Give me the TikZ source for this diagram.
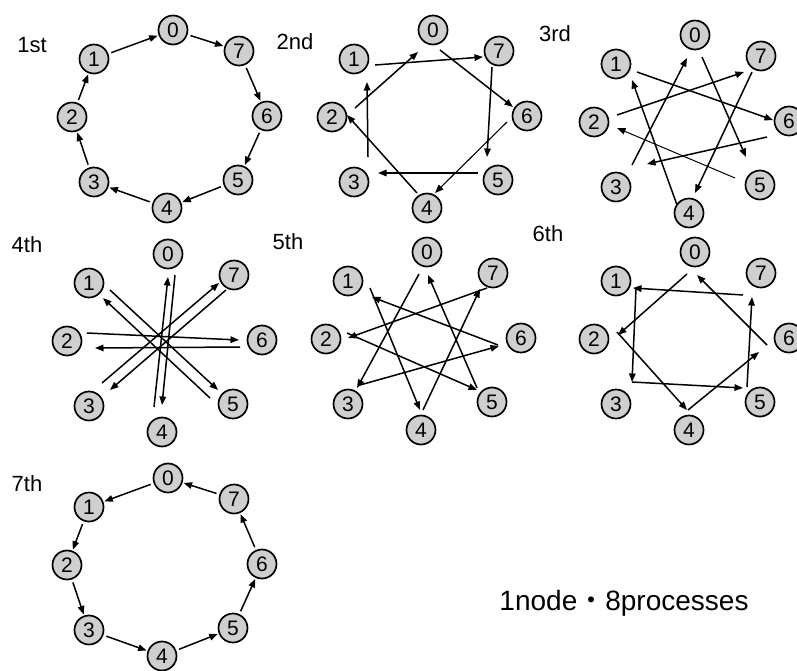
\documentclass[tikz,border=0pt]{standalone}
\usepackage{fontspec}
\setmainfont{Liberation Sans}
\newfontfamily\cjk{Noto Sans CJK JP}
\usetikzlibrary{arrows.meta,calc}
\newcommand{\ringnodes}[3]{%
  \foreach \i/\dx/\dy in {0/0/0,1/-79/29,2/-101/87,3/-79/152,4/-6/178,5/65/150,6/94/86,7/66/21}
    \node[pnode] (#1\i) at (#2+\dx,#3+\dy) {\i};
}
\newcommand{\conn}[7][]{\draw[arr,#1] ($(#2)+(#3,#4)$) -- ($(#5)+(#6,#7)$);}
\begin{document}
\begin{tikzpicture}[x=1pt,y=-1pt,
  pnode/.style={circle,draw,line width=1.7pt,fill=gray!38,minimum size=29pt,inner sep=0pt,
                font=\fontsize{21}{21}\selectfont},
  arr/.style={-{Triangle[length=8.5pt,width=6.5pt]},line width=1.5pt},
  ring/.style={arr,shorten <=3pt,shorten >=1pt},
  lbl/.style={font=\fontsize{22}{22}\selectfont,inner sep=0pt}]
\fill[white] (0,0) rectangle (797,670);
\useasboundingbox (0,0) rectangle (797,670);

% labels
\node[lbl] (t1) at (32,45) {1st};
\node[lbl] (t2) at (295,42) {2nd};
\node[lbl] (t3) at (555,34) {3rd};
\node[lbl] (t4) at (27,245) {4th};
\node[lbl] (t5) at (288,242) {5th};
\node[lbl] (t6) at (548,234) {6th};
\node[lbl] (t7) at (27,484) {7th};
\node[font=\fontsize{28}{28}\selectfont,inner sep=0pt] (cap) at (624,603)
  {1node{\cjk ・}8processes};

% nodes
\ringnodes{a}{173}{30}
\ringnodes{b}{433}{30}
\ringnodes{c}{695}{35}
\ringnodes{d}{168}{254}
\ringnodes{e}{427}{252}
\ringnodes{f}{695}{252}
\ringnodes{g}{168}{478}

% 1st: i -> i-1
\draw[ring] (a1) -- (a0);
\draw[ring] (a0) -- (a7);
\draw[ring] (a7) -- (a6);
\draw[ring] (a6) -- (a5);
\draw[ring] (a5) -- (a4);
\draw[ring] (a4) -- (a3);
\draw[ring] (a3) -- (a2);
\draw[ring] (a2) -- (a1);

% 2nd: i -> i-2
\conn{b1}{21}{6}{b7}{-16}{6}
\conn{b2}{23}{-9}{b0}{-15}{22}
\conn{b0}{7}{20}{b6}{-14}{-9}
\conn{b7}{-7}{16}{b5}{-11}{-23}
\conn[line width=1.1pt]{b6}{-20}{6}{b4}{8}{-15}
\conn{b5}{-20}{-7}{b3}{24}{-9}
\conn{b4}{-10}{-15}{b2}{15}{-2}
\conn{b3}{14}{-25}{b1}{13}{23}

% 3rd: i -> i-3
\conn{c1}{21}{8}{c6}{-16}{-1}
\conn{c2}{23}{-7}{c7}{-17}{16}
\conn{c3}{16}{-22}{c0}{-8}{23}
\conn{c4}{-12}{-8}{c1}{16}{16}
\conn[line width=1pt]{c5}{-25}{-7}{c2}{23}{6}
\conn{c6}{-22}{16}{c3}{31}{-23}
\conn{c7}{-9}{16}{c4}{6}{-20}
\conn{c0}{7}{22}{c5}{-14}{-28}

% 4th: i -> i-4
\conn{d4}{-8}{-25}{d0}{0}{23}
\conn{d0}{7}{21}{d4}{0}{-27}
\conn{d1}{21}{7}{d5}{-15}{-14}
\conn{d5}{-23}{-6}{d1}{14}{15}
\conn{d2}{20}{-8}{d6}{-23}{0}
\conn{d6}{-22}{7}{d2}{28}{7}
\conn{d3}{13}{-23}{d7}{-15}{8}
\conn{d7}{-8}{15}{d3}{21}{-16}

% 5th: i -> i-5
\conn{e0}{-8}{22}{e3}{9}{-16}
\conn{e1}{22}{7}{e4}{-1}{-20}
\conn{e2}{21}{-6}{e5}{-15}{-12}
\conn{e3}{12}{-19}{e6}{-22}{8}
\conn{e4}{2}{-20}{e7}{-13}{16}
\conn{e5}{-15}{-14}{e0}{1}{23}
\conn{e6}{-23}{7}{e1}{24}{16}
\conn{e7}{-6}{15}{e2}{22}{-1}

% 6th: i -> i-6
\conn{f0}{-8}{22}{f2}{24}{-4}
\conn{f1}{20}{7}{f3}{16}{-22}
\conn{f2}{23}{-7}{f4}{-2}{-20}
\conn{f3}{16}{-22}{f5}{-17}{-14}
\conn{f4}{-1}{-20}{f6}{-30}{14}
\conn{f5}{-13}{-15}{f7}{-9}{24}
\conn{f6}{-22}{7}{f0}{2}{23}
\conn{f7}{-18}{22}{f1}{17}{7}

% 7th: i -> i-7
\draw[ring] (g0) -- (g1);
\draw[ring] (g1) -- (g2);
\draw[ring] (g2) -- (g3);
\draw[ring] (g3) -- (g4);
\draw[ring] (g4) -- (g5);
\draw[ring] (g5) -- (g6);
\draw[ring] (g6) -- (g7);
\draw[ring] (g7) -- (g0);
\end{tikzpicture}
\end{document}
